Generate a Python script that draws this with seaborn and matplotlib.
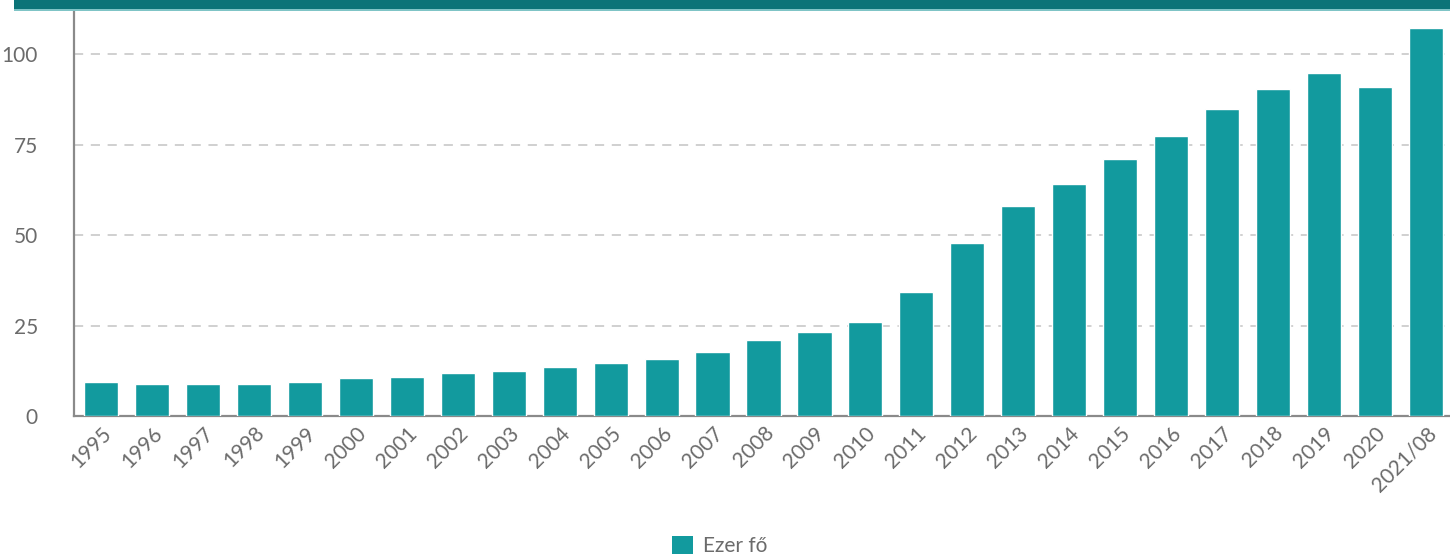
import matplotlib
matplotlib.use("Agg")
import matplotlib.pyplot as plt
import seaborn as sns
import pandas as pd
from matplotlib.patches import Rectangle, Patch

years = ["1995", "1996", "1997", "1998", "1999", "2000", "2001", "2002", "2003",
         "2004", "2005", "2006", "2007", "2008", "2009", "2010", "2011", "2012",
         "2013", "2014", "2015", "2016", "2017", "2018", "2019", "2020", "2021/08"]
values = [9.4, 8.8, 8.8, 8.8, 9.4, 10.4, 10.9, 11.9, 12.4, 13.5, 14.7, 15.8, 17.7,
          21.0, 23.2, 26.0, 34.2, 47.9, 58.0, 64.2, 71.1, 77.5, 84.8, 90.5, 95.0,
          90.9, 107.4]
yticks = [0, 25, 50, 75, 100]
series_name = "Ezer fő"

bar_color = "#129a9e"
text_color = "#6b6b6b"

sns.set_theme(style="white")
plt.rcParams["font.family"] = ["Lato", "DejaVu Sans"]

df = pd.DataFrame({"year": years, "value": values})

fig = plt.figure(figsize=(14.5, 5.59), dpi=100)
ax = fig.add_axes([74 / 1450, 1 - 416 / 559, 1379 / 1450, 406 / 559])

sns.barplot(data=df, x="year", y="value", color=bar_color, width=0.67,
            saturation=1, ax=ax, zorder=3)

ax.set_xlim(-0.53, len(years) - 0.47)
ax.set_ylim(0, 112.3)
ax.set_yticks(yticks)
ax.set_yticklabels([str(t) for t in yticks])
ax.set_xlabel("")
ax.set_ylabel("")

ax.yaxis.grid(True, linestyle=(0, (6, 5)), color="#c4c4c4", linewidth=1.1, zorder=0)
ax.xaxis.grid(False)
for s in ["top", "right"]:
    ax.spines[s].set_visible(False)
for s in ["left", "bottom"]:
    ax.spines[s].set_color("#8a8a8a")
    ax.spines[s].set_linewidth(1.6)

ax.tick_params(axis="y", length=0, pad=26, labelsize=15, labelcolor=text_color)
ax.tick_params(axis="x", length=0, pad=5, labelsize=15, labelcolor=text_color)
for lbl in ax.get_xticklabels():
    lbl.set_rotation(45)
    lbl.set_ha("right")
    lbl.set_rotation_mode("anchor")

# top band
fig.patches.append(Rectangle((14 / 1450, 1 - 9 / 559), 1, 9 / 559,
                             transform=fig.transFigure, facecolor="#0b7478",
                             edgecolor="none", zorder=10))
fig.patches.append(Rectangle((14 / 1450, 1 - 11 / 559), 1, 2 / 559,
                             transform=fig.transFigure, facecolor="#7fc4c6",
                             edgecolor="none", zorder=10))

handles = [Patch(facecolor=bar_color, edgecolor="none", label=series_name)]
fig.legend(handles=handles, loc="center", bbox_to_anchor=(720 / 1450, 1 - 546 / 559),
           frameon=False, fontsize=15, labelcolor=text_color, handlelength=1.0,
           handleheight=1.0, handletextpad=0.5)

fig.savefig("out.png", dpi=100)
